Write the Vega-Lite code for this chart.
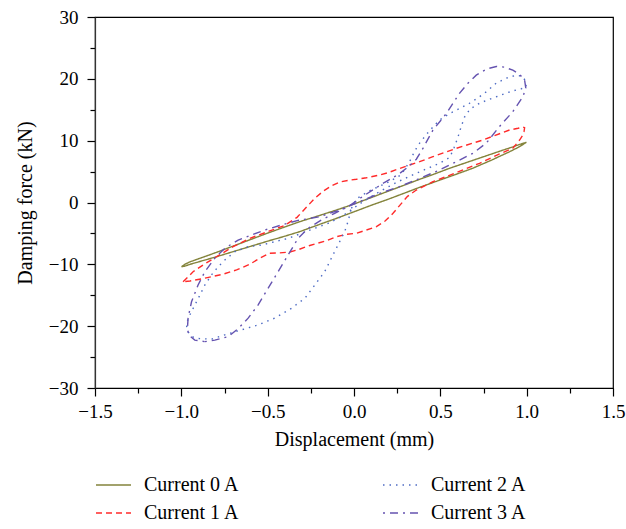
{
  "$schema": "https://vega.github.io/schema/vega-lite/v6.json",
  "width": 518,
  "height": 371,
  "autosize": {"type": "none"},
  "padding": {"left": 95, "top": 17, "right": 13, "bottom": 141},
  "background": "white",
  "config": {
    "view": {"stroke": "black", "strokeWidth": 1.2},
    "font": "Liberation Serif"
  },
  "datasets": {
    "pts": [
      {"s":"Current 0 A","i":0,"d":-0.999,"f":-10.39},{"s":"Current 0 A","i":1,"d":-0.98,"f":-10.0},{"s":"Current 0 A","i":2,"d":-0.95,"f":-9.6},{"s":"Current 0 A","i":3,"d":-0.9,"f":-9.1},{"s":"Current 0 A","i":4,"d":-0.8,"f":-8.1},{"s":"Current 0 A","i":5,"d":-0.7,"f":-7.05},{"s":"Current 0 A","i":6,"d":-0.6,"f":-6.0},{"s":"Current 0 A","i":7,"d":-0.5,"f":-4.95},{"s":"Current 0 A","i":8,"d":-0.4,"f":-3.95},{"s":"Current 0 A","i":9,"d":-0.315,"f":-3.11},{"s":"Current 0 A","i":10,"d":-0.2,"f":-2.1},{"s":"Current 0 A","i":11,"d":-0.1,"f":-1.2},{"s":"Current 0 A","i":12,"d":0,"f":-0.25},{"s":"Current 0 A","i":13,"d":0.1,"f":0.8},{"s":"Current 0 A","i":14,"d":0.2,"f":1.85},{"s":"Current 0 A","i":15,"d":0.3,"f":2.9},{"s":"Current 0 A","i":16,"d":0.38,"f":3.75},{"s":"Current 0 A","i":17,"d":0.46,"f":4.55},{"s":"Current 0 A","i":18,"d":0.553,"f":5.53},{"s":"Current 0 A","i":19,"d":0.65,"f":6.45},{"s":"Current 0 A","i":20,"d":0.75,"f":7.4},{"s":"Current 0 A","i":21,"d":0.85,"f":8.35},{"s":"Current 0 A","i":22,"d":0.92,"f":9.0},{"s":"Current 0 A","i":23,"d":0.96,"f":9.4},{"s":"Current 0 A","i":24,"d":0.985,"f":9.62},{"s":"Current 0 A","i":25,"d":0.998,"f":9.74},{"s":"Current 0 A","i":26,"d":0.98,"f":9.4},{"s":"Current 0 A","i":27,"d":0.95,"f":8.9},{"s":"Current 0 A","i":28,"d":0.9,"f":8.2},{"s":"Current 0 A","i":29,"d":0.8,"f":6.9},{"s":"Current 0 A","i":30,"d":0.687,"f":5.53},{"s":"Current 0 A","i":31,"d":0.6,"f":4.65},{"s":"Current 0 A","i":32,"d":0.5,"f":3.65},{"s":"Current 0 A","i":33,"d":0.38,"f":2.46},{"s":"Current 0 A","i":34,"d":0.3,"f":1.6},{"s":"Current 0 A","i":35,"d":0.2,"f":0.55},{"s":"Current 0 A","i":36,"d":0.1,"f":-0.45},{"s":"Current 0 A","i":37,"d":0,"f":-1.5},{"s":"Current 0 A","i":38,"d":-0.1,"f":-2.55},{"s":"Current 0 A","i":39,"d":-0.2,"f":-3.55},{"s":"Current 0 A","i":40,"d":-0.315,"f":-4.72},{"s":"Current 0 A","i":41,"d":-0.4,"f":-5.45},{"s":"Current 0 A","i":42,"d":-0.5,"f":-6.25},{"s":"Current 0 A","i":43,"d":-0.6,"f":-7.1},{"s":"Current 0 A","i":44,"d":-0.7,"f":-7.95},{"s":"Current 0 A","i":45,"d":-0.8,"f":-8.8},{"s":"Current 0 A","i":46,"d":-0.9,"f":-9.6},{"s":"Current 0 A","i":47,"d":-0.95,"f":-10.0},{"s":"Current 0 A","i":48,"d":-0.98,"f":-10.3},{"s":"Current 0 A","i":49,"d":-0.999,"f":-10.39},

      {"s":"Current 1 A","i":0,"d":-0.99,"f":-12.8},{"s":"Current 1 A","i":1,"d":-0.96,"f":-12.0},{"s":"Current 1 A","i":2,"d":-0.932,"f":-11.2},{"s":"Current 1 A","i":3,"d":-0.874,"f":-10.1},{"s":"Current 1 A","i":4,"d":-0.796,"f":-8.77},{"s":"Current 1 A","i":5,"d":-0.7,"f":-7.15},{"s":"Current 1 A","i":6,"d":-0.604,"f":-5.8},{"s":"Current 1 A","i":7,"d":-0.488,"f":-4.6},{"s":"Current 1 A","i":8,"d":-0.4,"f":-3.7},{"s":"Current 1 A","i":9,"d":-0.33,"f":-2.4},{"s":"Current 1 A","i":10,"d":-0.28,"f":-0.9},{"s":"Current 1 A","i":11,"d":-0.23,"f":0.6},{"s":"Current 1 A","i":12,"d":-0.18,"f":1.8},{"s":"Current 1 A","i":13,"d":-0.13,"f":2.7},{"s":"Current 1 A","i":14,"d":-0.083,"f":3.3},{"s":"Current 1 A","i":15,"d":-0.03,"f":3.6},{"s":"Current 1 A","i":16,"d":0.014,"f":3.75},{"s":"Current 1 A","i":17,"d":0.072,"f":4.0},{"s":"Current 1 A","i":18,"d":0.15,"f":4.45},{"s":"Current 1 A","i":19,"d":0.2,"f":4.85},{"s":"Current 1 A","i":20,"d":0.264,"f":5.5},{"s":"Current 1 A","i":21,"d":0.322,"f":6.07},{"s":"Current 1 A","i":22,"d":0.38,"f":6.6},{"s":"Current 1 A","i":23,"d":0.457,"f":7.41},{"s":"Current 1 A","i":24,"d":0.593,"f":8.77},{"s":"Current 1 A","i":25,"d":0.747,"f":10.11},{"s":"Current 1 A","i":26,"d":0.85,"f":11.2},{"s":"Current 1 A","i":27,"d":0.901,"f":11.73},{"s":"Current 1 A","i":28,"d":0.95,"f":12.0},{"s":"Current 1 A","i":29,"d":0.978,"f":12.2},{"s":"Current 1 A","i":30,"d":0.988,"f":12.1},{"s":"Current 1 A","i":31,"d":0.985,"f":11.5},{"s":"Current 1 A","i":32,"d":0.975,"f":10.8},{"s":"Current 1 A","i":33,"d":0.959,"f":10.1},{"s":"Current 1 A","i":34,"d":0.92,"f":8.77},{"s":"Current 1 A","i":35,"d":0.843,"f":7.85},{"s":"Current 1 A","i":36,"d":0.727,"f":6.34},{"s":"Current 1 A","i":37,"d":0.593,"f":4.83},{"s":"Current 1 A","i":38,"d":0.457,"f":3.37},{"s":"Current 1 A","i":39,"d":0.361,"f":2.02},{"s":"Current 1 A","i":40,"d":0.31,"f":1.0},{"s":"Current 1 A","i":41,"d":0.27,"f":-0.3},{"s":"Current 1 A","i":42,"d":0.226,"f":-1.75},{"s":"Current 1 A","i":43,"d":0.18,"f":-3.0},{"s":"Current 1 A","i":44,"d":0.13,"f":-3.9},{"s":"Current 1 A","i":45,"d":0.072,"f":-4.45},{"s":"Current 1 A","i":46,"d":0.014,"f":-4.98},{"s":"Current 1 A","i":47,"d":-0.044,"f":-5.15},{"s":"Current 1 A","i":48,"d":-0.102,"f":-5.53},{"s":"Current 1 A","i":49,"d":-0.16,"f":-6.18},{"s":"Current 1 A","i":50,"d":-0.256,"f":-6.95},{"s":"Current 1 A","i":51,"d":-0.32,"f":-7.6},{"s":"Current 1 A","i":52,"d":-0.372,"f":-8.0},{"s":"Current 1 A","i":53,"d":-0.43,"f":-8.15},{"s":"Current 1 A","i":54,"d":-0.488,"f":-8.2},{"s":"Current 1 A","i":55,"d":-0.546,"f":-9.0},{"s":"Current 1 A","i":56,"d":-0.604,"f":-10.0},{"s":"Current 1 A","i":57,"d":-0.68,"f":-10.9},{"s":"Current 1 A","i":58,"d":-0.758,"f":-11.6},{"s":"Current 1 A","i":59,"d":-0.874,"f":-12.3},{"s":"Current 1 A","i":60,"d":-0.95,"f":-12.7},{"s":"Current 1 A","i":61,"d":-0.99,"f":-12.8},

      {"s":"Current 2 A","i":0,"d":-0.015,"f":-0.94},{"s":"Current 2 A","i":1,"d":0.014,"f":0.6},{"s":"Current 2 A","i":2,"d":0.09,"f":1.9},{"s":"Current 2 A","i":3,"d":0.2,"f":3.3},{"s":"Current 2 A","i":4,"d":0.274,"f":4.5},{"s":"Current 2 A","i":5,"d":0.322,"f":6.6},{"s":"Current 2 A","i":6,"d":0.351,"f":8.3},{"s":"Current 2 A","i":7,"d":0.38,"f":9.6},{"s":"Current 2 A","i":8,"d":0.419,"f":11.0},{"s":"Current 2 A","i":9,"d":0.457,"f":12.2},{"s":"Current 2 A","i":10,"d":0.496,"f":13.35},{"s":"Current 2 A","i":11,"d":0.554,"f":14.4},{"s":"Current 2 A","i":12,"d":0.612,"f":15.2},{"s":"Current 2 A","i":13,"d":0.669,"f":16.05},{"s":"Current 2 A","i":14,"d":0.727,"f":17.1},{"s":"Current 2 A","i":15,"d":0.766,"f":17.9},{"s":"Current 2 A","i":16,"d":0.824,"f":19.3},{"s":"Current 2 A","i":17,"d":0.882,"f":20.1},{"s":"Current 2 A","i":18,"d":0.94,"f":20.6},{"s":"Current 2 A","i":19,"d":0.975,"f":20.4},{"s":"Current 2 A","i":20,"d":0.99,"f":19.8},{"s":"Current 2 A","i":21,"d":0.998,"f":18.7},{"s":"Current 2 A","i":22,"d":0.97,"f":18.4},{"s":"Current 2 A","i":23,"d":0.94,"f":18.2},{"s":"Current 2 A","i":24,"d":0.882,"f":17.7},{"s":"Current 2 A","i":25,"d":0.824,"f":17.1},{"s":"Current 2 A","i":26,"d":0.766,"f":16.5},{"s":"Current 2 A","i":27,"d":0.708,"f":15.8},{"s":"Current 2 A","i":28,"d":0.669,"f":15.0},{"s":"Current 2 A","i":29,"d":0.64,"f":13.8},{"s":"Current 2 A","i":30,"d":0.62,"f":12.2},{"s":"Current 2 A","i":31,"d":0.6,"f":10.4},{"s":"Current 2 A","i":32,"d":0.58,"f":8.9},{"s":"Current 2 A","i":33,"d":0.555,"f":7.3},{"s":"Current 2 A","i":34,"d":0.5,"f":6.4},{"s":"Current 2 A","i":35,"d":0.45,"f":5.8},{"s":"Current 2 A","i":36,"d":0.35,"f":4.6},{"s":"Current 2 A","i":37,"d":0.25,"f":3.3},{"s":"Current 2 A","i":38,"d":0.15,"f":1.8},{"s":"Current 2 A","i":39,"d":0.05,"f":0.1},{"s":"Current 2 A","i":40,"d":-0.073,"f":-2.3},{"s":"Current 2 A","i":41,"d":-0.15,"f":-3.37},{"s":"Current 2 A","i":42,"d":-0.227,"f":-4.18},{"s":"Current 2 A","i":43,"d":-0.304,"f":-4.98},{"s":"Current 2 A","i":44,"d":-0.382,"f":-5.8},{"s":"Current 2 A","i":45,"d":-0.459,"f":-6.34},{"s":"Current 2 A","i":46,"d":-0.536,"f":-6.88},{"s":"Current 2 A","i":47,"d":-0.613,"f":-7.15},{"s":"Current 2 A","i":48,"d":-0.69,"f":-7.96},{"s":"Current 2 A","i":49,"d":-0.748,"f":-9.3},{"s":"Current 2 A","i":50,"d":-0.787,"f":-10.4},{"s":"Current 2 A","i":51,"d":-0.825,"f":-11.7},{"s":"Current 2 A","i":52,"d":-0.864,"f":-13.35},{"s":"Current 2 A","i":53,"d":-0.893,"f":-15.0},{"s":"Current 2 A","i":54,"d":-0.922,"f":-16.6},{"s":"Current 2 A","i":55,"d":-0.951,"f":-18.2},{"s":"Current 2 A","i":56,"d":-0.97,"f":-19.5},{"s":"Current 2 A","i":57,"d":-0.968,"f":-20.4},{"s":"Current 2 A","i":58,"d":-0.955,"f":-21.2},{"s":"Current 2 A","i":59,"d":-0.93,"f":-21.8},{"s":"Current 2 A","i":60,"d":-0.903,"f":-22.0},{"s":"Current 2 A","i":61,"d":-0.825,"f":-22.1},{"s":"Current 2 A","i":62,"d":-0.748,"f":-21.4},{"s":"Current 2 A","i":63,"d":-0.652,"f":-20.6},{"s":"Current 2 A","i":64,"d":-0.556,"f":-19.8},{"s":"Current 2 A","i":65,"d":-0.459,"f":-18.7},{"s":"Current 2 A","i":66,"d":-0.362,"f":-17.1},{"s":"Current 2 A","i":67,"d":-0.285,"f":-15.5},{"s":"Current 2 A","i":68,"d":-0.227,"f":-13.35},{"s":"Current 2 A","i":69,"d":-0.17,"f":-11.2},{"s":"Current 2 A","i":70,"d":-0.131,"f":-9.0},{"s":"Current 2 A","i":71,"d":-0.093,"f":-6.88},{"s":"Current 2 A","i":72,"d":-0.054,"f":-4.72},{"s":"Current 2 A","i":73,"d":-0.035,"f":-3.1},{"s":"Current 2 A","i":74,"d":-0.015,"f":-0.94},

      {"s":"Current 3 A","i":0,"d":-0.864,"f":-22.5},{"s":"Current 3 A","i":1,"d":-0.806,"f":-22.25},{"s":"Current 3 A","i":2,"d":-0.729,"f":-21.7},{"s":"Current 3 A","i":3,"d":-0.671,"f":-20.4},{"s":"Current 3 A","i":4,"d":-0.613,"f":-18.7},{"s":"Current 3 A","i":5,"d":-0.556,"f":-16.6},{"s":"Current 3 A","i":6,"d":-0.498,"f":-13.9},{"s":"Current 3 A","i":7,"d":-0.44,"f":-11.2},{"s":"Current 3 A","i":8,"d":-0.382,"f":-8.5},{"s":"Current 3 A","i":9,"d":-0.324,"f":-5.8},{"s":"Current 3 A","i":10,"d":-0.266,"f":-4.2},{"s":"Current 3 A","i":11,"d":-0.189,"f":-2.83},{"s":"Current 3 A","i":12,"d":-0.112,"f":-1.75},{"s":"Current 3 A","i":13,"d":-0.035,"f":-0.68},{"s":"Current 3 A","i":14,"d":0.052,"f":1.0},{"s":"Current 3 A","i":15,"d":0.178,"f":3.27},{"s":"Current 3 A","i":16,"d":0.26,"f":4.6},{"s":"Current 3 A","i":17,"d":0.32,"f":5.9},{"s":"Current 3 A","i":18,"d":0.361,"f":7.0},{"s":"Current 3 A","i":19,"d":0.4,"f":8.8},{"s":"Current 3 A","i":20,"d":0.457,"f":11.7},{"s":"Current 3 A","i":21,"d":0.535,"f":14.4},{"s":"Current 3 A","i":22,"d":0.612,"f":17.7},{"s":"Current 3 A","i":23,"d":0.66,"f":19.3},{"s":"Current 3 A","i":24,"d":0.708,"f":20.6},{"s":"Current 3 A","i":25,"d":0.77,"f":21.6},{"s":"Current 3 A","i":26,"d":0.824,"f":22.0},{"s":"Current 3 A","i":27,"d":0.87,"f":21.9},{"s":"Current 3 A","i":28,"d":0.92,"f":21.4},{"s":"Current 3 A","i":29,"d":0.96,"f":20.7},{"s":"Current 3 A","i":30,"d":0.988,"f":19.8},{"s":"Current 3 A","i":31,"d":0.995,"f":18.5},{"s":"Current 3 A","i":32,"d":0.978,"f":17.1},{"s":"Current 3 A","i":33,"d":0.92,"f":14.7},{"s":"Current 3 A","i":34,"d":0.843,"f":12.3},{"s":"Current 3 A","i":35,"d":0.766,"f":9.6},{"s":"Current 3 A","i":36,"d":0.689,"f":7.96},{"s":"Current 3 A","i":37,"d":0.593,"f":6.6},{"s":"Current 3 A","i":38,"d":0.496,"f":5.26},{"s":"Current 3 A","i":39,"d":0.38,"f":3.9},{"s":"Current 3 A","i":40,"d":0.264,"f":2.56},{"s":"Current 3 A","i":41,"d":0.149,"f":1.49},{"s":"Current 3 A","i":42,"d":0.033,"f":0.13},{"s":"Current 3 A","i":43,"d":-0.083,"f":-1.2},{"s":"Current 3 A","i":44,"d":-0.2,"f":-2.3},{"s":"Current 3 A","i":45,"d":-0.324,"f":-2.9},{"s":"Current 3 A","i":46,"d":-0.42,"f":-3.64},{"s":"Current 3 A","i":47,"d":-0.517,"f":-4.45},{"s":"Current 3 A","i":48,"d":-0.594,"f":-5.26},{"s":"Current 3 A","i":49,"d":-0.671,"f":-6.07},{"s":"Current 3 A","i":50,"d":-0.748,"f":-7.4},{"s":"Current 3 A","i":51,"d":-0.806,"f":-9.0},{"s":"Current 3 A","i":52,"d":-0.864,"f":-11.2},{"s":"Current 3 A","i":53,"d":-0.903,"f":-13.35},{"s":"Current 3 A","i":54,"d":-0.941,"f":-16.05},{"s":"Current 3 A","i":55,"d":-0.961,"f":-18.7},{"s":"Current 3 A","i":56,"d":-0.965,"f":-20.5},{"s":"Current 3 A","i":57,"d":-0.955,"f":-21.5},{"s":"Current 3 A","i":58,"d":-0.922,"f":-22.25},{"s":"Current 3 A","i":59,"d":-0.864,"f":-22.5}
    ]
  },
  "data": {"name": "pts"},
  "mark": {"type": "line", "strokeWidth": 1.4, "interpolate": "linear"},
  "encoding": {
    "x": {
      "field": "d", "type": "quantitative",
      "scale": {"domain": [-1.5, 1.5], "nice": false, "zero": false},
      "axis": {
        "title": "Displacement (mm)",
        "values": [-1.5,-1.25,-1,-0.75,-0.5,-0.25,0,0.25,0.5,0.75,1,1.25,1.5],
        "format": ".1f",
        "labelExpr": "abs(round(datum.value*4)) % 2 === 0 ? datum.label : ''",
        "tickSize": {"condition": {"test": "abs(round(datum.value*4)) % 2 === 1", "value": 5}, "value": 8},
        "grid": false,
        "domainColor": "black", "domainWidth": 1.2,
        "tickColor": "black", "tickWidth": 1.2,
        "labelFont": "Liberation Serif", "labelFontSize": 19, "labelColor": "black", "labelPadding": 6,
        "labelFlush": false, "labelOverlap": false,
        "titleFont": "Liberation Serif", "titleFontSize": 20, "titleFontWeight": "normal", "titleColor": "black", "titlePadding": 8
      }
    },
    "y": {
      "field": "f", "type": "quantitative",
      "scale": {"domain": [-30, 30], "nice": false, "zero": false},
      "axis": {
        "title": "Damping force (kN)",
        "values": [-30,-25,-20,-15,-10,-5,0,5,10,15,20,25,30],
        "format": "d",
        "labelExpr": "datum.value % 10 === 0 ? datum.label : ''",
        "tickSize": {"condition": {"test": "datum.value % 10 !== 0", "value": 5}, "value": 8},
        "grid": false,
        "domainColor": "#333", "domainWidth": 1.2,
        "tickColor": "black", "tickWidth": 1.2,
        "labelFont": "Liberation Serif", "labelFontSize": 19, "labelColor": "black", "labelPadding": 9,
        "labelFlush": false, "labelOverlap": false,
        "titleFont": "Liberation Serif", "titleFontSize": 20, "titleFontWeight": "normal", "titleColor": "black", "titlePadding": 13
      }
    },
    "color": {
      "field": "s", "type": "nominal",
      "scale": {
        "domain": ["Current 0 A", "Current 1 A", "Current 2 A", "Current 3 A"],
        "range": ["#84843c", "#ff2a2a", "#4d6bc4", "#6553b0"]
      },
      "legend": {
        "title": null, "orient": "none", "legendX": 0, "legendY": 458,
        "columns": 2, "columnPadding": 142, "rowPadding": 8, "padding": 0,
        "symbolType": "stroke", "symbolSize": 1225, "symbolStrokeWidth": 1.5,
        "clipHeight": 20,
        "labelFont": "Liberation Serif", "labelFontSize": 20, "labelColor": "black",
        "labelOffset": 12, "labelLimit": 250
      }
    },
    "strokeDash": {
      "field": "s", "type": "nominal",
      "scale": {
        "domain": ["Current 0 A", "Current 1 A", "Current 2 A", "Current 3 A"],
        "range": [[1, 0], [6, 4], [1.5, 5], [2, 5, 8, 5]]
      },
      "legend": {
        "title": null, "orient": "none", "legendX": 0, "legendY": 458,
        "columns": 2, "columnPadding": 142, "rowPadding": 8, "padding": 0,
        "symbolType": "stroke", "symbolSize": 1225, "symbolStrokeWidth": 1.5,
        "clipHeight": 20,
        "labelFont": "Liberation Serif", "labelFontSize": 20, "labelColor": "black",
        "labelOffset": 12, "labelLimit": 250
      }
    },
    "order": {"field": "i", "type": "quantitative"}
  }
}
